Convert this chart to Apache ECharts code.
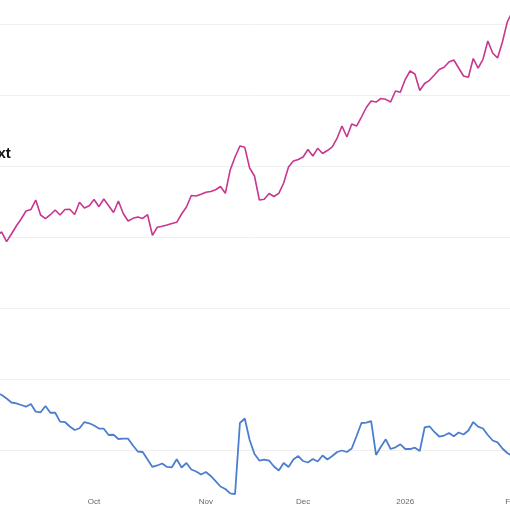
<!DOCTYPE html>
<html>
<head>
<meta charset="utf-8">
<script src="https://cdn.jsdelivr.net/npm/echarts@6/dist/echarts.min.js"></script>
<style>
html,body{margin:0;padding:0;width:510px;height:510px;overflow:hidden;background:#fff;}
#chart{position:absolute;left:-100px;top:-100px;width:760px;height:660px;}
</style>
</head>
<body>
<div id="chart"></div>
<script>
const titleText = 'Text';
const monthNames = ['Jan','Feb','Mar','Apr','May','Jun','Jul','Aug','Sep','Oct','Nov','Dec'];
const categories = [
'2025-09-02','2025-09-03','2025-09-04','2025-09-05','2025-09-08','2025-09-09','2025-09-10','2025-09-11','2025-09-12',
'2025-09-15','2025-09-16','2025-09-17','2025-09-18','2025-09-19','2025-09-22','2025-09-23','2025-09-24','2025-09-25','2025-09-26',
'2025-09-29','2025-09-30',
'2025-10-01','2025-10-02','2025-10-03','2025-10-06','2025-10-07','2025-10-08','2025-10-09','2025-10-10',
'2025-10-13','2025-10-14','2025-10-15','2025-10-16','2025-10-17','2025-10-20','2025-10-21','2025-10-22','2025-10-23','2025-10-24',
'2025-10-27','2025-10-28','2025-10-29','2025-10-30','2025-10-31',
'2025-11-03','2025-11-04','2025-11-05','2025-11-06','2025-11-07','2025-11-10','2025-11-11','2025-11-12','2025-11-13','2025-11-14',
'2025-11-17','2025-11-18','2025-11-19','2025-11-20','2025-11-21','2025-11-24','2025-11-25','2025-11-26','2025-11-27','2025-11-28',
'2025-12-01','2025-12-02','2025-12-03','2025-12-04','2025-12-05','2025-12-08','2025-12-09','2025-12-10','2025-12-11','2025-12-12',
'2025-12-15','2025-12-16','2025-12-17','2025-12-18','2025-12-19','2025-12-22','2025-12-23','2025-12-24','2025-12-29','2025-12-30','2025-12-31',
'2026-01-01','2026-01-02','2026-01-05','2026-01-06','2026-01-07','2026-01-08','2026-01-09','2026-01-12','2026-01-13','2026-01-14',
'2026-01-15','2026-01-16','2026-01-19','2026-01-20','2026-01-21','2026-01-22','2026-01-23','2026-01-26','2026-01-27','2026-01-28',
'2026-01-29','2026-01-30',
'2026-02-02','2026-02-03'
];
const upperValues = [
39.86,40.28,40.70,39.34,40.42,41.55,42.54,43.66,43.87,45.21,
43.10,42.58,43.14,43.80,43.10,43.87,43.90,43.17,44.89,44.08,
44.41,45.28,44.27,45.35,44.41,43.45,45.07,43.31,42.25,42.63,
42.82,42.61,43.14,40.24,41.37,41.52,41.69,41.90,42.07,43.24,
44.23,45.85,45.77,46.01,46.30,46.41,46.65,47.11,46.15,49.44,
51.27,52.82,52.63,49.72,48.59,45.21,45.31,46.13,45.70,46.15,
47.61,49.86,50.70,50.92,51.27,52.32,51.41,52.49,51.76,52.18,
52.68,53.94,55.63,54.08,55.92,55.63,56.90,58.24,59.15,59.01,
59.51,59.39,59.01,60.56,60.38,62.18,63.38,62.96,60.63,61.62,
62.07,62.82,63.59,63.90,64.65,64.93,63.80,62.68,62.49,65.14,
63.80,65.03,67.61,65.92,65.21,67.46,70.28,71.69,72.54
];
const lowerValues = [
18.31,18.03,17.75,17.25,16.69,16.58,16.34,16.10,16.48,15.39,
15.31,16.20,15.25,15.25,13.99,13.94,13.31,12.82,13.06,13.94,
13.76,13.45,13.03,13.00,12.11,12.15,11.55,11.59,11.59,10.63,
9.79,9.72,8.66,7.61,7.82,8.10,7.61,7.56,8.69,7.54,
8.17,7.25,6.97,6.55,6.90,6.34,5.63,4.86,4.51,3.90,
3.80,13.80,14.44,11.41,9.44,8.52,8.66,8.52,7.68,7.11,
8.17,7.61,8.66,9.15,8.45,8.24,8.73,8.38,9.23,8.66,
9.15,9.72,9.93,9.72,10.21,11.97,13.80,13.85,14.08,9.30,
10.46,11.51,10.14,10.38,10.80,10.14,10.14,10.32,9.86,13.17,
13.34,12.54,11.90,12.04,12.39,11.93,12.46,12.18,12.75,13.94,
13.28,13.03,12.11,11.34,11.08,10.21,9.58,9.15,8.59
];
const yMin = 0, yMax = 80, yStep = 10;

const chart = echarts.init(document.getElementById('chart'), null, {renderer: 'canvas'});
chart.setOption({
  animation: false,
  backgroundColor: '#ffffff',
  title: {
    text: titleText,
    left: 76,
    top: 241,
    textStyle: {fontFamily: 'Liberation Sans', fontWeight: 'bold', fontSize: 15, color: '#111111'}
  },
  grid: {left: 92, width: 525, top: 53, height: 568, containLabel: false},
  xAxis: {
    type: 'category',
    data: categories,
    boundaryGap: false,
    offset: -31,
    axisLine: {show: false},
    axisTick: {show: false},
    splitLine: {show: false},
    axisLabel: {
      color: '#666666',
      fontSize: 8,
      margin: 8,
      interval: function (idx, val) {
        return idx > 0 && val.slice(5, 7) !== categories[idx - 1].slice(5, 7);
      },
      formatter: function (val) {
        const m = parseInt(val.slice(5, 7), 10);
        return m === 1 ? val.slice(0, 4) : monthNames[m - 1];
      }
    }
  },
  yAxis: {
    type: 'value',
    min: yMin, max: yMax, interval: yStep,
    axisLine: {show: false},
    axisTick: {show: false},
    axisLabel: {show: false},
    splitLine: {show: true, lineStyle: {color: '#f0f0f0', width: 1}}
  },
  series: [
    {
      name: 'Upper',
      type: 'line',
      data: upperValues,
      showSymbol: false,
      clip: false,
      lineStyle: {color: '#c8368f', width: 1.6},
      itemStyle: {color: '#c8368f'}
    },
    {
      name: 'Lower',
      type: 'line',
      data: lowerValues,
      showSymbol: false,
      clip: false,
      lineStyle: {color: '#4c7ecf', width: 1.8},
      itemStyle: {color: '#4c7ecf'}
    }
  ]
});
</script>
</body>
</html>
